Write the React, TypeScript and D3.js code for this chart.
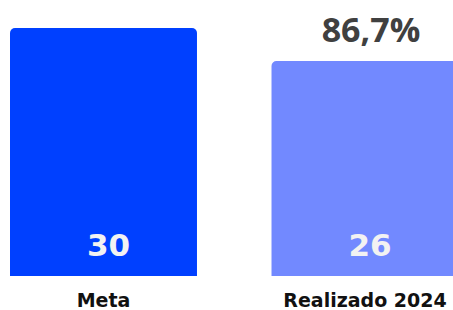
import React from 'react'
import * as d3 from 'd3'

const width = 453
const height = 310

const categories = ['Meta', 'Realizado 2024']
const values = [30, 26]
const colors = ['#0040ff', '#7289ff']
const percentLabel = '86,7%'

const x = d3
  .scaleBand()
  .domain(categories)
  .range([10, 458.5])
  .paddingInner(0.285)
  .paddingOuter(0)

const y = d3.scaleLinear().domain([0, 30]).range([276, 28])

// bar with rounded top corners only
const barPath = (x0: number, y0: number, w: number, h: number, r: number) => {
  const p = d3.path()
  p.moveTo(x0, y0 + h)
  p.lineTo(x0, y0 + r)
  p.arcTo(x0, y0, x0 + r, y0, r)
  p.lineTo(x0 + w - r, y0)
  p.arcTo(x0 + w, y0, x0 + w, y0 + r, r)
  p.lineTo(x0 + w, y0 + h)
  p.closePath()
  return p.toString()
}

const App = () => {
  const bw = x.bandwidth()
  return (
    <div style={{ position: 'fixed', left: 0, top: 0, width, height, overflow: 'hidden', background: '#fff' }}>
      <svg width={width} height={height}>
        {categories.map((c, i) => {
          const bx = x(c) as number
          const cx = bx + bw / 2
          return (
            <g key={c}>
              <path d={barPath(bx, y(values[i]), bw, y(0) - y(values[i]), 5)} fill={colors[i]} />
              <text
                x={cx + 5}
                y={y(0) - 20}
                textAnchor="middle"
                fontFamily="DejaVu Sans"
                fontWeight="bold"
                fontSize={31}
                fill="#f2f2f2"
              >
                {values[i]}
              </text>
              <text
                x={cx}
                y={307}
                textAnchor="middle"
                fontFamily="DejaVu Sans"
                fontWeight="bold"
                fontSize={19}
                fill="#111"
              >
                {c}
              </text>
            </g>
          )
        })}
        <text
          x={(x(categories[1]) as number) + bw / 2 + 6}
          y={42}
          textAnchor="middle"
          fontFamily="Open Sans"
          fontWeight="bold"
          fontSize={34}
          fill="#404040"
        >
          {percentLabel}
        </text>
      </svg>
    </div>
  )
}

export default App
